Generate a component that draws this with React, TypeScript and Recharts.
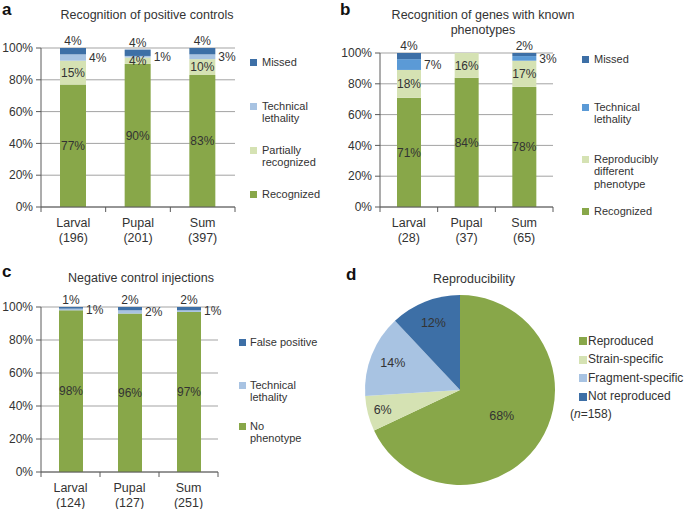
import {
  BarChart,
  Bar,
  XAxis,
  YAxis,
  CartesianGrid,
  LabelList,
  PieChart,
  Pie,
  Cell,
} from "recharts";

const FONT = '"Liberation Sans", Arial, Helvetica, sans-serif';
const TEXT = "#333";
const AXIS = "#5a5a5a";
const GRID = "#a3a3a3";

const GREEN = "#88a749";
const LIGHT_GREEN = "#d5e2b3";
const LIGHT_BLUE = "#a8c3e2";
const MID_BLUE = "#5b9ad6";
const DARK_BLUE = "#3d6fa6";

const STAGES = ["Larval", "Pupal", "Sum"];
const PCT_TICKS = [0, 20, 40, 60, 80, 100];

// a: positive controls
const A_COUNTS = [196, 201, 397];
const A_RECOGNIZED = [77, 90, 83];
const A_PARTIAL = [15, 4, 10];
const A_TECHNICAL = [4, 1, 3];
const A_MISSED = [4, 4, 4];

// b: genes with known phenotypes
const B_COUNTS = [28, 37, 65];
const B_RECOGNIZED = [71, 84, 78];
const B_DIFFERENT = [18, 16, 17];
const B_TECHNICAL = [7, 0, 3];
const B_MISSED = [4, 0, 2];

// c: negative controls
const C_COUNTS = [124, 127, 251];
const C_NO_PHENO = [98, 96, 97];
const C_TECHNICAL = [1, 2, 1];
const C_FALSE_POS = [1, 2, 2];

// d: reproducibility
const D_NAMES = ["Reproduced", "Strain-specific", "Fragment-specific", "Not reproduced"];
const D_VALUES = [68, 6, 14, 12];
const D_COLORS = [GREEN, LIGHT_GREEN, LIGHT_BLUE, DARK_BLUE];

const dataA = STAGES.map((s, i) => ({
  cat: `${s}\n(${A_COUNTS[i]})`,
  recognized: A_RECOGNIZED[i],
  partial: A_PARTIAL[i],
  technical: A_TECHNICAL[i],
  missed: A_MISSED[i],
}));

const dataB = STAGES.map((s, i) => ({
  cat: `${s}\n(${B_COUNTS[i]})`,
  recognized: B_RECOGNIZED[i],
  different: B_DIFFERENT[i],
  technical: B_TECHNICAL[i],
  missed: B_MISSED[i],
}));

const dataC = STAGES.map((s, i) => ({
  cat: `${s}\n(${C_COUNTS[i]})`,
  noPheno: C_NO_PHENO[i],
  technical: C_TECHNICAL[i],
  falsePos: C_FALSE_POS[i],
}));

const dataD = D_NAMES.map((name, i) => ({ name, value: D_VALUES[i] }));

const pct = (v: unknown) => (v ? `${v}%` : "");
const labelStyle = { fontSize: 12, fill: TEXT, fontFamily: FONT };

// category tick: two text lines plus boundary tick marks (excel style)
function CatTick(props: any) {
  const { x, y, payload, width, visibleTicksCount, index } = props;
  const n = visibleTicksCount || 3;
  const off = payload.offset || width / (2 * n);
  const lines = String(payload.value).split("\n");
  return (
    <g>
      <line x1={x - off} x2={x - off} y1={y - 5} y2={y} stroke={AXIS} />
      {index === n - 1 && (
        <line x1={x + off} x2={x + off} y1={y - 5} y2={y} stroke={AXIS} />
      )}
      <text x={x} y={y} textAnchor="middle" fill={TEXT} fontSize={12.5} fontFamily={FONT}>
        <tspan x={x} dy={14.5}>{lines[0]}</tspan>
        <tspan x={x} dy={15.5}>{lines[1]}</tspan>
      </text>
    </g>
  );
}

interface LegendItem {
  label: string[];
  color: string;
  y: number;
}

function HtmlLegend({ x, textX, items, fontSize = 11, lineHeight = 12.5, box = 7 }: {
  x: number;
  textX: number;
  items: LegendItem[];
  fontSize?: number;
  lineHeight?: number;
  box?: number;
}) {
  return (
    <>
      {items.map((it) => (
        <div key={it.label.join(" ")}>
          <div
            style={{
              position: "absolute",
              left: x,
              top: it.y - box / 2,
              width: box,
              height: box,
              background: it.color,
            }}
          />
          <div
            style={{
              position: "absolute",
              left: textX,
              top: it.y - lineHeight / 2,
              fontSize,
              lineHeight: `${lineHeight}px`,
              color: TEXT,
              whiteSpace: "nowrap",
            }}
          >
            {it.label.map((l) => (
              <div key={l}>{l}</div>
            ))}
          </div>
        </div>
      ))}
    </>
  );
}

function Title({ cx, top, width, lines, size = 12.5 }: { cx: number; top: number; width: number; lines: string[]; size?: number }) {
  return (
    <div
      style={{
        position: "absolute",
        left: cx - width / 2,
        top,
        width,
        textAlign: "center",
        fontSize: size,
        lineHeight: "15px",
        color: TEXT,
      }}
    >
      {lines.map((l) => (
        <div key={l}>{l}</div>
      ))}
    </div>
  );
}

function PanelLetter({ x, y, ch }: { x: number; y: number; ch: string }) {
  return (
    <div
      style={{
        position: "absolute",
        left: x,
        top: y,
        fontSize: 17,
        fontWeight: "bold",
        lineHeight: "17px",
        color: "#111",
      }}
    >
      {ch}
    </div>
  );
}

const yAxisProps = {
  type: "number" as const,
  domain: [0, 100],
  ticks: PCT_TICKS,
  tickFormatter: (v: number) => `${v}%`,
  width: 41,
  tick: { fontSize: 12, fill: TEXT, fontFamily: FONT },
  axisLine: { stroke: AXIS },
  tickLine: { stroke: AXIS },
  tickSize: 5,
  tickMargin: 3,
  interval: 0 as const,
};

const xAxisProps = {
  dataKey: "cat",
  axisLine: { stroke: AXIS },
  tickLine: false,
  tickSize: 5,
  tickMargin: 0,
  tick: <CatTick />,
  interval: 0 as const,
};

function PieLabel(props: any) {
  const { cx, cy, midAngle, outerRadius, percent, value } = props;
  const RAD = Math.PI / 180;
  const f = percent < 0.1 ? 0.84 : percent < 0.5 ? 0.76 : 0.52;
  const r = outerRadius * f;
  const x = cx + r * Math.cos(-midAngle * RAD);
  const y = cy + r * Math.sin(-midAngle * RAD);
  return (
    <text x={x} y={y} textAnchor="middle" dominantBaseline="central" fill={TEXT} fontSize={12.5} fontFamily={FONT}>
      {value}%
    </text>
  );
}

export default function App() {
  return (
    <div
      style={{
        position: "absolute",
        left: 0,
        top: 0,
        width: 685,
        height: 509,
        background: "#fff",
        fontFamily: FONT,
        overflow: "hidden",
      }}
    >
      {/* a */}
      <PanelLetter x={2} y={1} ch="a" />
      <Title cx={147} top={7.5} width={260} lines={["Recognition of positive controls"]} />
      <div style={{ position: "absolute", left: 0, top: 0 }}>
        <BarChart width={250} height={250} data={dataA} margin={{ top: 48, right: 15, bottom: 3, left: 0 }}>
          <CartesianGrid vertical={false} stroke={GRID} />
          <XAxis {...xAxisProps} height={40} />
          <YAxis {...yAxisProps} />
          <Bar dataKey="recognized" stackId="s" fill={GREEN} barSize={26} isAnimationActive={false}>
            <LabelList dataKey="recognized" position="center" formatter={pct} style={labelStyle} />
          </Bar>
          <Bar dataKey="partial" stackId="s" fill={LIGHT_GREEN} barSize={26} isAnimationActive={false}>
            <LabelList dataKey="partial" position="center" formatter={pct} style={labelStyle} />
          </Bar>
          <Bar dataKey="technical" stackId="s" fill={LIGHT_BLUE} barSize={26} isAnimationActive={false}>
            <LabelList dataKey="technical" position="right" offset={3} formatter={pct} style={labelStyle} />
          </Bar>
          <Bar dataKey="missed" stackId="s" fill={DARK_BLUE} barSize={26} isAnimationActive={false}>
            <LabelList dataKey="missed" position="top" offset={3} formatter={pct} style={labelStyle} />
          </Bar>
        </BarChart>
      </div>
      <HtmlLegend
        x={250}
        textX={262}
        items={[
          { label: ["Missed"], color: DARK_BLUE, y: 62 },
          { label: ["Technical", "lethality"], color: LIGHT_BLUE, y: 106 },
          { label: ["Partially", "recognized"], color: LIGHT_GREEN, y: 150 },
          { label: ["Recognized"], color: GREEN, y: 194 },
        ]}
      />

      {/* b */}
      <PanelLetter x={340} y={1} ch="b" />
      <Title cx={483} top={7.5} width={240} lines={["Recognition of genes with known", "phenotypes"]} />
      <div style={{ position: "absolute", left: 339, top: 0 }}>
        <BarChart width={229} height={250} data={dataB} margin={{ top: 53, right: 15, bottom: 3, left: 0 }}>
          <CartesianGrid vertical={false} stroke={GRID} />
          <XAxis {...xAxisProps} height={40} />
          <YAxis {...yAxisProps} />
          <Bar dataKey="recognized" stackId="s" fill={GREEN} barSize={24} isAnimationActive={false}>
            <LabelList dataKey="recognized" position="center" formatter={pct} style={labelStyle} />
          </Bar>
          <Bar dataKey="different" stackId="s" fill={LIGHT_GREEN} barSize={24} isAnimationActive={false}>
            <LabelList dataKey="different" position="center" formatter={pct} style={labelStyle} />
          </Bar>
          <Bar dataKey="technical" stackId="s" fill={MID_BLUE} barSize={24} isAnimationActive={false}>
            <LabelList dataKey="technical" position="right" offset={3} formatter={pct} style={labelStyle} />
          </Bar>
          <Bar dataKey="missed" stackId="s" fill={DARK_BLUE} barSize={24} isAnimationActive={false}>
            <LabelList dataKey="missed" position="top" offset={3} formatter={pct} style={labelStyle} />
          </Bar>
        </BarChart>
      </div>
      <HtmlLegend
        x={582}
        textX={594}
        items={[
          { label: ["Missed"], color: DARK_BLUE, y: 59 },
          { label: ["Technical", "lethality"], color: MID_BLUE, y: 107 },
          { label: ["Reproducibly", "different", "phenotype"], color: LIGHT_GREEN, y: 159 },
          { label: ["Recognized"], color: GREEN, y: 211 },
        ]}
      />

      {/* c */}
      <PanelLetter x={2} y={263} ch="c" />
      <Title cx={141} top={270.5} width={260} lines={["Negative control injections"]} />
      <div style={{ position: "absolute", left: 0, top: 260 }}>
        <BarChart width={233} height={249} data={dataC} margin={{ top: 47, right: 15, bottom: 2, left: 0 }}>
          <CartesianGrid vertical={false} stroke={GRID} />
          <XAxis {...xAxisProps} height={35} />
          <YAxis {...yAxisProps} />
          <Bar dataKey="noPheno" stackId="s" fill={GREEN} barSize={24} isAnimationActive={false}>
            <LabelList dataKey="noPheno" position="center" formatter={pct} style={labelStyle} />
          </Bar>
          <Bar dataKey="technical" stackId="s" fill={LIGHT_BLUE} barSize={24} isAnimationActive={false}>
            <LabelList dataKey="technical" position="right" offset={3} formatter={pct} style={labelStyle} />
          </Bar>
          <Bar dataKey="falsePos" stackId="s" fill={DARK_BLUE} barSize={24} isAnimationActive={false}>
            <LabelList dataKey="falsePos" position="top" offset={3} formatter={pct} style={labelStyle} />
          </Bar>
        </BarChart>
      </div>
      <HtmlLegend
        x={239}
        textX={250}
        items={[
          { label: ["False positive"], color: DARK_BLUE, y: 342 },
          { label: ["Technical", "lethality"], color: LIGHT_BLUE, y: 385 },
          { label: ["No", "phenotype"], color: GREEN, y: 426 },
        ]}
      />

      {/* d */}
      <PanelLetter x={346} y={266} ch="d" />
      <Title cx={474} top={271.5} width={200} lines={["Reproducibility"]} />
      <div style={{ position: "absolute", left: 340, top: 260 }}>
        <PieChart width={240} height={249} margin={{ top: 0, right: 0, bottom: 0, left: 0 }}>
          <Pie
            data={dataD}
            dataKey="value"
            nameKey="name"
            cx={120}
            cy={130}
            outerRadius={95}
            startAngle={90}
            endAngle={-270}
            stroke="none"
            label={PieLabel}
            labelLine={false}
            isAnimationActive={false}
          >
            {dataD.map((d, i) => (
              <Cell key={d.name} fill={D_COLORS[i]} />
            ))}
          </Pie>
        </PieChart>
      </div>
      <HtmlLegend
        x={579}
        textX={588}
        fontSize={12}
        lineHeight={15}
        box={8}
        items={D_NAMES.map((n, i) => ({ label: [n], color: D_COLORS[i], y: 341 + i * 18.5 }))}
      />
      <div
        style={{
          position: "absolute",
          left: 570,
          top: 407,
          fontSize: 12,
          lineHeight: "15px",
          color: TEXT,
        }}
      >
        (<i>n</i>=158)
      </div>
    </div>
  );
}
